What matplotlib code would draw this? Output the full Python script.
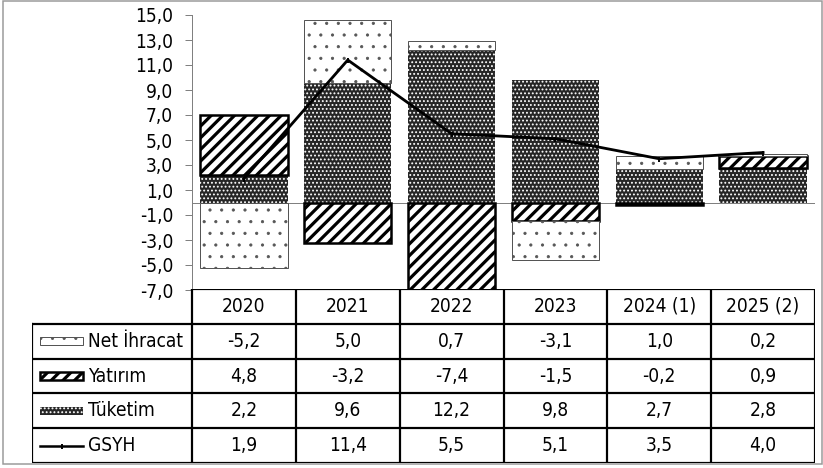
import numpy as np
import matplotlib
matplotlib.use("Agg")
import matplotlib.pyplot as plt
from matplotlib import font_manager
from matplotlib.patches import Rectangle

years = ["2020", "2021", "2022", "2023", "2024 (1)", "2025 (2)"]
net_ihracat = [-5.2, 5.0, 0.7, -3.1, 1.0, 0.2]
yatirim = [4.8, -3.2, -7.4, -1.5, -0.2, 0.9]
tuketim = [2.2, 9.6, 12.2, 9.8, 2.7, 2.8]
gsyh = [1.9, 11.4, 5.5, 5.1, 3.5, 4.0]
yticks = np.arange(-7, 16, 2)

W, H = 823, 468
DPI = 140  # hatch spacing scales with dpi


def px(p):
    # pixels -> points
    return p * 72 / DPI


FS = px(19.0)
# Tahoma-ish: DejaVu Sans Condensed if it is there, else Liberation Sans
cond = font_manager.findfont(font_manager.FontProperties(family="DejaVu Sans", stretch="condensed"))
if "Condensed" in cond:
    plt.rcParams['font.family'] = ['DejaVu Sans']
    plt.rcParams['font.stretch'] = 'condensed'
else:
    plt.rcParams['font.family'] = ['Liberation Sans', 'DejaVu Sans']


def fmt(v):
    return f"{v:.1f}".replace(".", ",")


# styles for the stacked series (drawing order = stacking order)
series = [
    ("Tüketim", tuketim, dict(facecolor="#262626", edgecolor="white", linewidth=0, hatch="......"), px(1.2)),
    ("Yatırım", yatirim, dict(facecolor="white", edgecolor="black", linewidth=px(2.5), hatch="////"), px(3.2)),
    ("Net İhracat", net_ihracat, dict(facecolor="white", edgecolor="#555555", linewidth=px(1.0), hatch=".."), px(0.8)),
]


def styled(patch, hlw):
    if hasattr(patch, "set_hatch_linewidth"):
        patch.set_hatch_linewidth(hlw)
    return patch


fig = plt.figure(figsize=(W / DPI, H / DPI), dpi=DPI)
ax = fig.add_axes([192 / W, 1 - 290 / H, 623 / W, 275 / H])

x = np.arange(len(years))
pos = np.zeros(len(years))
neg = np.zeros(len(years))
for name, vals, st, hlw in series:
    v = np.array(vals)
    bottom = np.where(v >= 0, pos, neg)
    with plt.rc_context({"hatch.linewidth": hlw}):
        bars = ax.bar(x, v, 0.84, bottom=bottom, zorder=2, **st)
    for b in bars:
        styled(b, hlw)
    pos += np.where(v >= 0, v, 0)
    neg += np.where(v < 0, v, 0)

ax.axhline(0, color="#808080", lw=px(1.0), zorder=1)
ax.plot(x, gsyh, color="black", lw=px(2.8), marker="|", ms=px(5), zorder=5)

ax.set_xlim(-0.5, 5.5)
ax.set_ylim(-7, 15)
ax.set_yticks(yticks)
ax.set_yticklabels([fmt(t) for t in yticks], fontsize=FS)
ax.set_xticks([])
for s in ["top", "right", "bottom"]:
    ax.spines[s].set_visible(False)
ax.spines["left"].set_color("#808080")
ax.spines["left"].set_linewidth(px(1.0))
ax.tick_params(axis="y", direction="out", length=px(7), width=px(1.0), color="#808080", pad=px(12))

# data table under the chart
tax = fig.add_axes([32 / W, 1 - 463 / H, 783 / W, 174 / H])
tax.set_xlim(0, 783)
tax.set_ylim(174, 0)
tax.axis("off")
c0 = 160
cw = 623 / 6
rh = 174 / 5
lw = px(2.2)
tax.plot([c0, 783], [0, 0], color="black", lw=lw, solid_capstyle="projecting")
for k in range(1, 6):
    tax.plot([0, 783], [rh * k, rh * k], color="black", lw=lw, solid_capstyle="projecting")
tax.plot([0, 0], [rh, 174], color="black", lw=lw, solid_capstyle="projecting")
for j in range(7):
    tax.plot([c0 + j * cw, c0 + j * cw], [0, 174], color="black", lw=lw, solid_capstyle="projecting")

for j, yr in enumerate(years):
    tax.text(c0 + (j + 0.5) * cw, rh * 0.5, yr, ha="center", va="center", fontsize=FS)

rows = [("Net İhracat", net_ihracat), ("Yatırım", yatirim), ("Tüketim", tuketim), ("GSYH", gsyh)]
for i, (name, vals) in enumerate(rows):
    yc = rh * (i + 1.5)
    tax.text(56, yc, name, ha="left", va="center", fontsize=FS)
    for j, v in enumerate(vals):
        tax.text(c0 + (j + 0.5) * cw, yc, fmt(v), ha="center", va="center", fontsize=FS)

# legend keys in the row labels
keys = {name: (st, hlw) for name, vals, st, hlw in series}
for i, (name, vals) in enumerate(rows):
    yc = rh * (i + 1.5)
    if name in keys:
        st, hlw = keys[name]
        with plt.rc_context({"hatch.linewidth": hlw}):
            r = Rectangle((8, yc - 4), 43, 8, **st)
        styled(r, hlw)
        tax.add_patch(r)
    else:
        tax.plot([8, 51], [yc, yc], color="black", lw=px(2.5))
        tax.plot([29.5], [yc], color="black", marker="|", ms=px(5))

fig.add_artist(Rectangle((3 / W, 1 - 464 / H), 819 / W, 463 / H, transform=fig.transFigure,
                         fill=False, edgecolor="#999999", lw=px(1.5)))

fig.savefig("out.png", dpi=DPI)
